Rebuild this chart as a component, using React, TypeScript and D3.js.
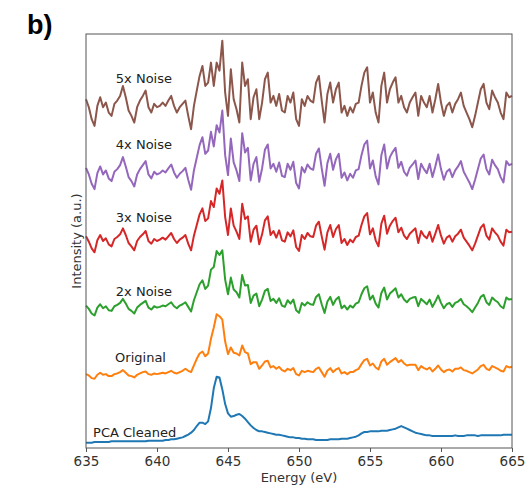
import React, { useEffect, useRef } from 'react';
import * as d3 from 'd3';

// energy grid of the spectra (eV)
const energyStart = 635;
const energyStep = 0.2;
const xTicks = [635, 640, 645, 650, 655, 660, 665];

const seriesNames = ['PCA Cleaned', 'Original', '2x Noise', '3x Noise', '4x Noise', '5x Noise'];
const seriesColors = ['#1f77b4', '#ff7f0e', '#2ca02c', '#d62728', '#9467bd', '#8c564b'];

// intensities (a.u., already stacked), one value per grid point
const pcaCleaned = [
  0, 0, 0, 1, 1, 1, 1, 1, 1, 2,
  2, 2, 2, 2, 2, 2, 2, 2, 2, 2,
  2, 2, 3, 3, 3, 3, 3, 3, 4, 4,
  5, 5, 6, 7, 8, 10, 12, 15, 19, 25,
  30, 30, 28, 32, 52, 82, 99, 98, 80, 58,
  44, 39, 40, 42, 43, 40, 36, 31, 26, 22,
  19, 17, 17, 16, 15, 14, 13, 12, 12, 11,
  10, 9, 8, 8, 7, 7, 6, 6, 5, 5,
  5, 4, 4, 4, 4, 4, 5, 5, 5, 5,
  6, 6, 6, 7, 8, 9, 11, 14, 16, 16,
  17, 17, 17, 17, 18, 18, 18, 19, 20, 21,
  23, 25, 23, 21, 19, 17, 15, 14, 13, 12,
  11, 11, 10, 10, 10, 10, 10, 10, 10, 10,
  11, 10, 10, 10, 11, 11, 11, 11, 10, 11,
  11, 11, 11, 11, 11, 11, 11, 12, 12, 12,
  12,
];

const original = [
  103, 101, 97, 96, 102, 105, 102, 103, 100, 100,
  103, 104, 106, 109, 105, 101, 100, 98, 102, 104,
  106, 107, 103, 102, 104, 103, 104, 105, 104, 106,
  108, 105, 104, 106, 108, 111, 108, 106, 116, 126,
  134, 137, 130, 134, 156, 173, 193, 190, 185, 152,
  133, 143, 135, 134, 131, 146, 136, 134, 118, 121,
  121, 111, 116, 122, 123, 113, 115, 111, 114, 109,
  107, 111, 109, 112, 103, 101, 108, 106, 108, 107,
  106, 111, 113, 106, 99, 108, 112, 106, 110, 112,
  104, 106, 103, 106, 106, 109, 111, 118, 124, 126,
  116, 119, 113, 110, 122, 126, 117, 121, 124, 127,
  121, 124, 119, 116, 117, 117, 117, 109, 115, 112,
  110, 113, 107, 111, 116, 110, 106, 109, 110, 107,
  111, 111, 113, 109, 108, 106, 104, 107, 110, 115,
  117, 111, 109, 115, 113, 111, 108, 107, 115, 113,
  114,
];

const noise2x = [
  206, 201, 194, 191, 203, 208, 202, 205, 199, 198,
  205, 207, 210, 216, 209, 201, 198, 194, 203, 207,
  210, 213, 203, 200, 205, 203, 204, 206, 205, 208,
  211, 205, 202, 206, 208, 211, 204, 197, 214, 226,
  238, 244, 231, 236, 260, 264, 288, 282, 289, 245,
  223, 248, 230, 226, 218, 252, 236, 237, 210, 221,
  224, 205, 215, 228, 231, 213, 216, 210, 217, 206,
  204, 214, 209, 215, 199, 195, 210, 206, 211, 208,
  207, 219, 223, 208, 195, 212, 219, 207, 215, 219,
  202, 206, 200, 206, 203, 209, 211, 223, 232, 235,
  215, 221, 209, 203, 225, 233, 215, 224, 228, 232,
  218, 223, 215, 211, 216, 218, 219, 205, 216, 212,
  208, 215, 204, 212, 221, 210, 202, 208, 210, 204,
  210, 212, 216, 208, 205, 201, 196, 203, 210, 219,
  222, 211, 207, 218, 214, 211, 205, 202, 218, 215,
  216,
];

const noise3x = [
  310, 302, 292, 286, 304, 312, 303, 307, 298, 295,
  306, 309, 313, 322, 312, 300, 295, 289, 303, 309,
  313, 318, 303, 299, 306, 303, 305, 308, 305, 310,
  315, 306, 300, 305, 308, 312, 299, 289, 311, 327,
  343, 352, 333, 337, 363, 354, 382, 374, 394, 339,
  312, 352, 326, 317, 306, 359, 336, 340, 302, 320,
  326, 298, 313, 334, 340, 312, 318, 308, 319, 304,
  302, 316, 310, 319, 294, 288, 312, 306, 315, 310,
  309, 326, 332, 310, 290, 316, 327, 309, 321, 327,
  300, 306, 297, 305, 301, 309, 311, 327, 340, 345,
  313, 322, 304, 295, 329, 341, 314, 326, 333, 338,
  316, 323, 311, 306, 314, 318, 322, 300, 318, 311,
  307, 317, 302, 314, 327, 311, 299, 308, 311, 302,
  310, 314, 320, 308, 302, 296, 289, 299, 311, 323,
  328, 311, 305, 322, 316, 311, 302, 296, 320, 316,
  317,
];

const noise4x = [
  413, 403, 389, 381, 405, 415, 403, 409, 397, 393,
  407, 411, 417, 429, 415, 399, 393, 385, 403, 411,
  417, 423, 403, 397, 407, 403, 405, 409, 406, 412,
  418, 406, 398, 404, 408, 413, 395, 380, 409, 428,
  447, 459, 434, 439, 467, 445, 477, 466, 499, 432,
  402, 457, 421, 409, 393, 465, 436, 443, 394, 419,
  429, 392, 412, 440, 448, 412, 419, 407, 421, 401,
  399, 419, 410, 422, 390, 382, 414, 406, 418, 412,
  410, 434, 442, 412, 386, 420, 434, 410, 426, 434,
  398, 406, 394, 404, 398, 409, 411, 432, 448, 454,
  412, 424, 400, 388, 432, 448, 412, 429, 437, 443,
  413, 422, 407, 401, 413, 418, 424, 396, 419, 411,
  405, 419, 399, 415, 433, 411, 395, 407, 411, 399,
  409, 415, 423, 407, 399, 391, 381, 395, 411, 427,
  433, 411, 403, 425, 417, 411, 399, 391, 423, 417,
  419,
];

const noise5x = [
  516, 504, 486, 476, 506, 519, 504, 511, 496, 491,
  509, 514, 521, 536, 519, 499, 491, 481, 504, 514,
  521, 529, 504, 496, 509, 504, 506, 511, 506, 514,
  521, 506, 496, 504, 509, 514, 491, 471, 506, 529,
  551, 566, 536, 541, 571, 536, 571, 559, 604, 526,
  491, 561, 516, 501, 481, 571, 536, 546, 486, 519,
  531, 486, 511, 546, 556, 511, 521, 506, 524, 499,
  496, 521, 511, 526, 486, 476, 516, 506, 521, 514,
  511, 541, 551, 514, 481, 524, 541, 511, 531, 541,
  496, 506, 491, 504, 496, 509, 511, 536, 556, 564,
  511, 526, 496, 481, 536, 556, 511, 531, 541, 549,
  511, 521, 504, 496, 511, 519, 526, 491, 521, 511,
  504, 521, 496, 516, 539, 511, 491, 506, 511, 496,
  509, 516, 526, 506, 496, 486, 474, 491, 511, 531,
  539, 511, 501, 529, 519, 511, 496, 486, 526, 519,
  521,
];

const allSeries = [pcaCleaned, original, noise2x, noise3x, noise4x, noise5x];

// where each label sits, in data coords [energy, intensity]
const labelAt = [[635.5, 9], [637.05, 121], [637.1, 220], [637.1, 331], [637.1, 441], [637.1, 541]];

const W = 526;
const H = 486;
const margin = { top: 34, right: 14, bottom: 38, left: 86 };
const font = 'DejaVu Sans, sans-serif';

export default function App() {
  const ref = useRef<SVGSVGElement>(null);

  useEffect(() => {
    const svg = d3.select(ref.current);
    svg.selectAll('*').remove();

    const x = d3.scaleLinear()
      .domain([635, 665])
      .range([margin.left, W - margin.right]);
    const y = d3.scaleLinear()
      .domain([-8, 614])
      .range([H - margin.bottom, margin.top]);

    const energy = pcaCleaned.map((_, i) => energyStart + i * energyStep);

    const line = d3.line<number>()
      .x((_, i) => x(energy[i]))
      .y(d => y(d));

    allSeries.forEach((s, k) => {
      svg.append('path')
        .datum(s)
        .attr('d', line)
        .attr('fill', 'none')
        .attr('stroke', seriesColors[k])
        .attr('stroke-width', 2)
        .attr('stroke-linejoin', 'round');
    });

    // series labels
    seriesNames.forEach((name, k) => {
      svg.append('text')
        .attr('x', x(labelAt[k][0]))
        .attr('y', y(labelAt[k][1]))
        .attr('font-family', font)
        .attr('font-size', 13)
        .attr('fill', '#222')
        .text(name);
    });

    // frame
    svg.append('rect')
      .attr('x', margin.left)
      .attr('y', margin.top)
      .attr('width', W - margin.left - margin.right)
      .attr('height', H - margin.top - margin.bottom)
      .attr('fill', 'none')
      .attr('stroke', '#555')
      .attr('stroke-width', 1);

    const xAxis = svg.append('g')
      .attr('transform', 'translate(0,' + (H - margin.bottom) + ')')
      .call(d3.axisBottom(x).tickValues(xTicks).tickFormat(d3.format('d')).tickSize(4).tickPadding(4));
    xAxis.select('.domain').remove();
    xAxis.selectAll('line').attr('stroke', '#555');
    xAxis.selectAll('text')
      .attr('font-family', font)
      .attr('font-size', 13.5)
      .attr('fill', '#333');

    svg.append('text')
      .attr('x', (margin.left + W - margin.right) / 2)
      .attr('y', 482)
      .attr('text-anchor', 'middle')
      .attr('font-family', font)
      .attr('font-size', 13)
      .attr('fill', '#333')
      .text('Energy (eV)');

    svg.append('text')
      .attr('transform', 'translate(81,' + ((margin.top + H - margin.bottom) / 2) + ') rotate(-90)')
      .attr('text-anchor', 'middle')
      .attr('font-family', font)
      .attr('font-size', 13)
      .attr('fill', '#333')
      .text('Intensity (a.u.)');

    svg.append('text')
      .attr('x', 27)
      .attr('y', 34)
      .attr('font-family', 'Liberation Sans, Arial, sans-serif')
      .attr('font-weight', 'bold')
      .attr('font-size', 27)
      .attr('fill', '#000')
      .text('b)');
  }, []);

  return (
    <svg
      ref={ref}
      width={W}
      height={H}
      style={{ position: 'absolute', left: 0, top: 0, background: '#fff' }}
    />
  );
}
